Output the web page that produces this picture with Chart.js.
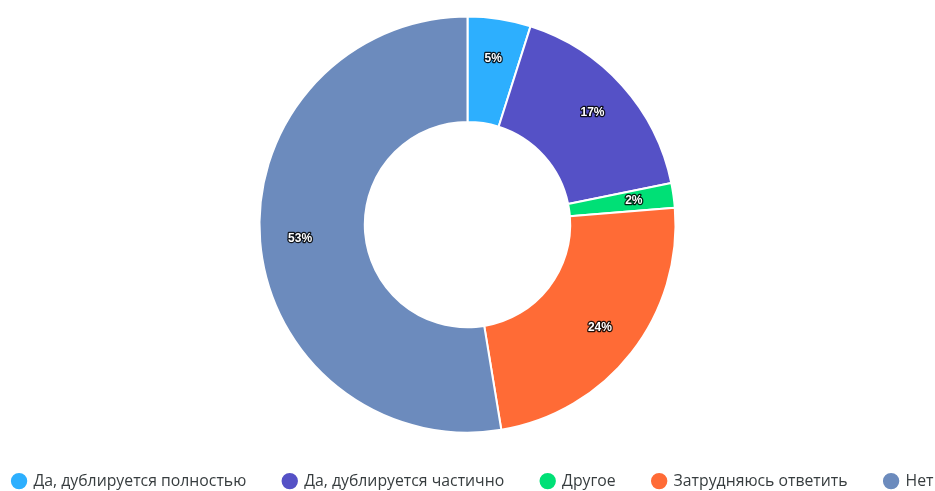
<!DOCTYPE html>
<html>
<head>
<meta charset="utf-8">
<script src="https://cdn.jsdelivr.net/npm/chart.js@4"></script>
<style>
  html, body { margin: 0; padding: 0; background: #fff; }
  #wrap { width: 935px; height: 491px; }
</style>
</head>
<body>
<div id="wrap"><canvas id="donut"></canvas></div>
<script>
'use strict';

const categories = [
    "Да, дублируется полностью",
    "Да, дублируется частично",
    "Другое",
    "Затрудняюсь ответить",
    "Нет",
];
const shares = [4.9, 16.9, 1.9, 23.7, 52.6];
const sliceColors = ["#2DAFFE", "#5551C6", "#00E076", "#FF6B36", "#6C8BBD"];

// percent labels drawn on the ring, white with a dark edge
const percentLabels = {
    id: "percentLabels",
    afterDatasetsDraw(chart) {
        const ctx = chart.ctx;
        const meta = chart.getDatasetMeta(0);
        const total = shares.reduce((a, b) => a + b, 0);
        ctx.save();
        ctx.font = "bold 12px 'Liberation Sans', Arial, sans-serif";
        ctx.textAlign = "center";
        ctx.textBaseline = "middle";
        meta.data.forEach((arc, i) => {
            const p = arc.getProps(["x", "y", "startAngle", "endAngle", "innerRadius", "outerRadius"], true);
            const mid = (p.startAngle + p.endAngle) / 2;
            const r = p.innerRadius + 0.62 * (p.outerRadius - p.innerRadius);
            const x = p.x + Math.cos(mid) * r;
            const y = p.y + Math.sin(mid) * r;
            const text = Math.round(shares[i] / total * 100) + "%";
            ctx.lineWidth = 2.5;
            ctx.strokeStyle = "rgba(0,0,0,0.85)";
            ctx.lineJoin = "round";
            ctx.strokeText(text, x, y);
            ctx.fillStyle = "#fff";
            ctx.fillText(text, x, y);
        });
        ctx.restore();
    },
};

new Chart(document.getElementById("donut"), {
    type: "doughnut",
    data: {
        labels: categories,
        datasets: [
            {
                data: shares,
                backgroundColor: sliceColors,
                borderColor: "#ffffff",
                borderWidth: 2,
                hoverOffset: 0,
            },
        ],
    },
    options: {
        responsive: true,
        maintainAspectRatio: false,
        animation: false,
        radius: 208,
        cutout: 104,
        layout: {
            // negative sides give the single legend row room to fit
            padding: { top: 13, bottom: -8, left: -37, right: -48 },
        },
        plugins: {
            legend: {
                position: "bottom",
                labels: {
                    usePointStyle: true,
                    pointStyle: "circle",
                    boxWidth: 13,
                    boxHeight: 13,
                    padding: 37,
                    color: "#373d3f",
                    font: { family: "'Open Sans', sans-serif", size: 15.8 },
                },
            },
            tooltip: { enabled: false },
        },
    },
    plugins: [percentLabels],
});
</script>
</body>
</html>
